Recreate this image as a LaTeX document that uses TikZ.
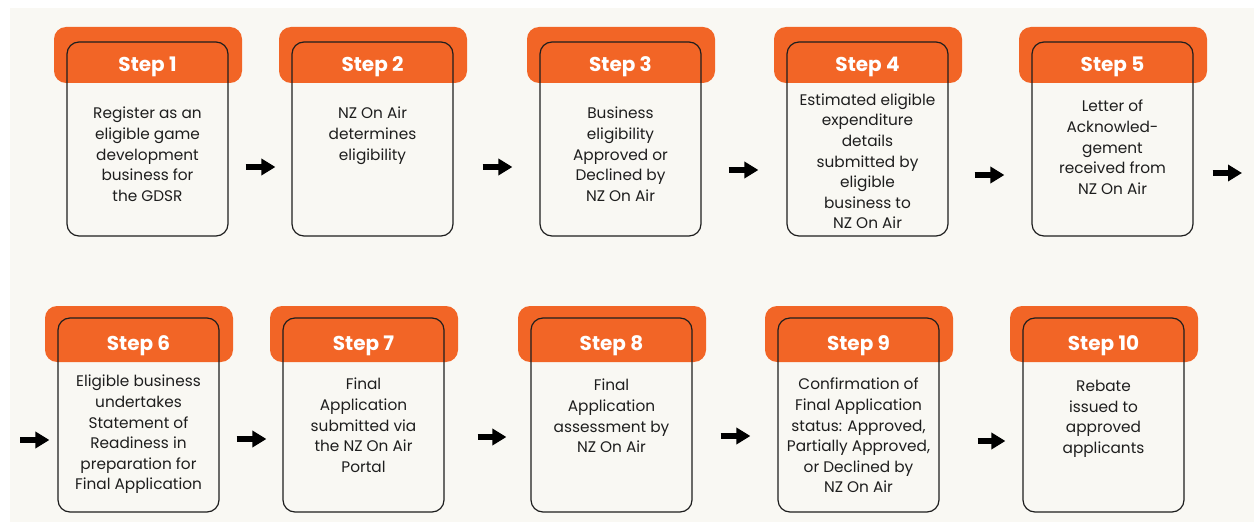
\documentclass[tikz,border=0pt]{standalone}
\usepackage{fontspec}
\setmainfont{Poppins}
\usetikzlibrary{arrows.meta}

\definecolor{stepOrange}{RGB}{242,101,38}
\definecolor{paper}{RGB}{249,248,243}
\definecolor{ink}{RGB}{30,30,30}

\begin{document}
\begin{tikzpicture}[x=0.75pt, y=-0.75pt,
    tab/.style = {fill=stepOrange, rounded corners=9pt, minimum width=141pt, minimum height=42pt, inner sep=0pt},
    card/.style = {draw=ink, line width=0.9pt, rounded corners=9pt, minimum width=120.75pt, minimum height=145.5pt, inner sep=0pt},
    head/.style = {anchor=base, text=white, font=\fontsize{15pt}{18pt}\selectfont\bfseries},
    body/.style = {anchor=north, align=center, inner sep=0pt, text=ink, font=\fontsize{11.5pt}{15.4pt}\selectfont},
    flow/.style = {line width=4.5pt, -{Triangle[length=10.5pt, width=12pt]}}
    ]
    \useasboundingbox (0,0) rectangle (1254,524);
    \fill[paper] (10,8) rectangle (1254,522);

    \node[tab] (tab1) at (148,55) {};
    \node[tab] (tab2) at (373,55) {};
    \node[tab] (tab3) at (621,55) {};
    \node[tab] (tab4) at (868,55) {};
    \node[tab] (tab5) at (1113,55) {};
    \node[tab] (tab6) at (139,334) {};
    \node[tab] (tab7) at (364,334) {};
    \node[tab] (tab8) at (612,334) {};
    \node[tab] (tab9) at (859,334) {};
    \node[tab] (tab10) at (1104,334) {};

    \node[card] (card1) at (147.5,139) {};
    \node[card] (card2) at (372.5,139) {};
    \node[card] (card3) at (620.5,139) {};
    \node[card] (card4) at (867.5,139) {};
    \node[card] (card5) at (1112.5,139) {};
    \node[card] (card6) at (138.5,415) {};
    \node[card] (card7) at (363.5,415) {};
    \node[card] (card8) at (611.5,415) {};
    \node[card] (card9) at (858.5,415) {};
    \node[card] (card10) at (1103.5,415) {};

    \node[head] (head1) at (147.5,72) {Step 1};
    \node[head] (head2) at (372.5,72) {Step 2};
    \node[head] (head3) at (620.5,72) {Step 3};
    \node[head] (head4) at (867.5,72) {Step 4};
    \node[head] (head5) at (1112.5,72) {Step 5};
    \node[head] (head6) at (138.5,350) {Step 6};
    \node[head] (head7) at (363.5,350) {Step 7};
    \node[head] (head8) at (611.5,350) {Step 8};
    \node[head] (head9) at (858.5,350) {Step 9};
    \node[head] (head10) at (1103.5,350) {Step 10};

    \node[body] (text1) at (147.5,107) {Register as an\\eligible game\\development\\business for\\the GDSR};
    \node[body] (text2) at (372.5,107) {NZ On Air\\determines\\eligibility};
    \node[body] (text3) at (620.5,107) {Business\\eligibility\\Approved or\\Declined by\\NZ On Air};
    \node[body] (text4) at (867.5,93.5) {Estimated eligible\\expenditure\\details\\submitted by\\eligible\\business to\\NZ On Air};
    \node[body] (text5) at (1112.5,100) {Letter of\\Acknowled-\\gement\\received from\\NZ On Air};
    \node[body] (text6) at (138.5,375) {Eligible business\\undertakes\\Statement of\\Readiness in\\preparation for\\Final Application};
    \node[body] (text7) at (363.5,378) {Final\\Application\\submitted via\\the NZ On Air\\Portal};
    \node[body] (text8) at (611.5,379) {Final\\Application\\assessment by\\NZ On Air};
    \node[body] (text9) at (858.5,378) {Confirmation of\\Final Application\\status: Approved,\\Partially Approved,\\or Declined by\\NZ On Air};
    \node[body] (text10) at (1103.5,380) {Rebate\\issued to\\approved\\applicants};

    \coordinate (exit5) at (1242,173);
    \coordinate (entry6) at (20,440);

    \draw[flow] ([shift={(17,28)}]card1.east) -- ([shift={(-16,28)}]card2.west);
    \draw[flow] ([shift={(29,28)}]card2.east) -- ([shift={(-27,28)}]card3.west);
    \draw[flow] ([shift={(27,31)}]card3.east) -- ([shift={(-28,31)}]card4.west);
    \draw[flow] ([shift={(26,36)}]card4.east) -- ([shift={(-27,36)}]card5.west);
    \draw[flow] ([shift={(19,34)}]card5.east) -- (exit5);
    \draw[flow] (entry6) -- ([shift={(-8,25)}]card6.west);
    \draw[flow] ([shift={(17,24)}]card6.east) -- ([shift={(-16,24)}]card7.west);
    \draw[flow] ([shift={(33,22)}]card7.east) -- ([shift={(-24,22)}]card8.west);
    \draw[flow] ([shift={(28,21)}]card8.east) -- ([shift={(-27,21)}]card9.west);
    \draw[flow] ([shift={(38,26)}]card9.east) -- ([shift={(-17,26)}]card10.west);
\end{tikzpicture}
\end{document}
